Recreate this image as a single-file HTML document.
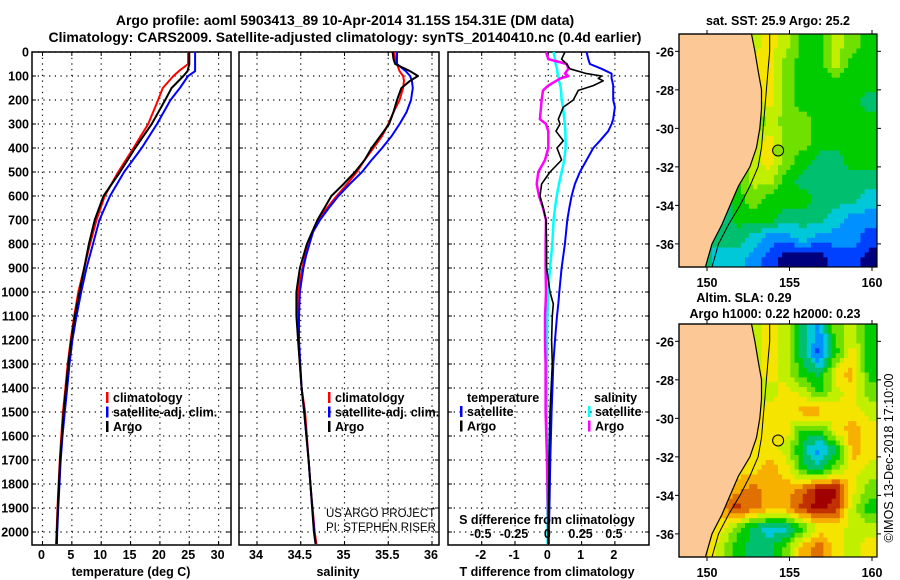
<!DOCTYPE html>
<html><head><meta charset="utf-8">
<style>
html,body{margin:0;padding:0;background:#fff;}
svg{display:block;font-family:"Liberation Sans",Arial,sans-serif;}
.b{font-weight:bold;font-size:12.5px;}
</style></head>
<body>
<svg id="fig" width="900" height="580" viewBox="0 0 900 580">
<text x="345" y="25" text-anchor="middle" font-weight="bold" font-size="14">Argo profile: aoml 5903413_89 10-Apr-2014 31.15S 154.31E (DM data)</text>
<text x="345" y="42" text-anchor="middle" font-weight="bold" font-size="14">Climatology: CARS2009. Satellite-adjusted climatology: synTS_20140410.nc (0.4d earlier)</text>
<g id="plots"></g>
</svg>
<script>
// ---------- data ----------
const depthT = [0,50,80,100,150,200,300,400,500,600,700,800,900,1000,1100,1200,1300,1400,1500,1600,1700,1800,1900,2000,2050];
const tempArgo = [25.0,25.0,24.7,24.0,22.0,20.9,18.6,15.8,13.2,10.4,8.9,7.9,7.1,6.3,5.5,4.9,4.4,4.0,3.6,3.3,3.0,2.8,2.6,2.45,2.4];
const tempClim = [24.8,24.8,23.2,22.3,20.5,19.7,18.0,15.5,12.9,10.6,9.2,8.1,7.1,6.1,5.4,4.8,4.3,3.9,3.5,3.2,2.95,2.75,2.55,2.4,2.3];
const tempSat  = [26.0,26.0,26.0,24.8,23.4,21.8,19.5,16.9,13.9,11.5,9.7,8.6,7.5,6.6,5.8,5.1,4.6,4.2,3.8,3.4,3.1,2.9,2.7,2.5,2.45];
const depthS = [0,30,50,80,100,120,150,200,250,300,350,400,450,500,550,600,650,700,750,800,850,900,950,1000,1100,1200,1400,1500,1700,1800,2000,2050];
const salArgo = [35.55,35.56,35.58,35.75,35.84,35.75,35.65,35.60,35.56,35.51,35.41,35.31,35.23,35.12,34.99,34.85,34.77,34.69,34.63,34.57,34.53,34.49,34.47,34.45,34.45,34.47,34.51,34.54,34.59,34.61,34.65,34.67];
const salClim = [35.57,35.58,35.60,35.63,35.67,35.68,35.67,35.63,35.56,35.50,35.43,35.33,35.23,35.14,35.03,34.91,34.80,34.70,34.64,34.59,34.55,34.52,34.49,34.47,34.46,34.47,34.51,34.55,34.59,34.61,34.66,34.68];
const salSat  = [35.60,35.60,35.60,35.70,35.75,35.77,35.78,35.76,35.71,35.63,35.54,35.43,35.31,35.20,35.06,34.93,34.82,34.72,34.64,34.60,34.56,34.53,34.51,34.49,34.48,34.48,34.51,34.54,34.59,34.61,34.655,34.67];
const depthD = [0,30,50,70,90,100,110,120,140,160,200,230,280,300,330,370,400,450,500,550,600,650,700,800,900,1000,1050,1100,1200,1300,1500,1700,2000,2050];
const dTSat  = [1.15,1.2,1.25,1.6,1.9,1.9,1.9,1.92,1.95,1.95,1.95,2.0,1.95,1.9,1.8,1.55,1.35,1.15,0.95,0.8,0.7,0.63,0.57,0.5,0.4,0.33,0.3,0.26,0.2,0.15,0.1,0.06,0.02,0.02];
const dTArgo = [0.5,0.4,0.55,0.65,1.15,1.6,1.5,1.65,1.35,0.9,0.75,0.45,0.3,0.35,0.23,0.45,0.26,0.4,0.05,-0.2,-0.25,-0.15,-0.07,-0.05,-0.05,0.05,0.15,0.12,0.1,0.12,0.05,0.02,0.0,0.0];
const dSSat  = [0.04,0.05,0.055,0.065,0.07,0.075,0.078,0.08,0.09,0.095,0.10,0.11,0.12,0.125,0.128,0.13,0.13,0.12,0.10,0.08,0.063,0.05,0.04,0.03,0.013,0.0,-0.004,-0.007,-0.01,-0.01,-0.01,-0.008,-0.005,-0.005];
const dSArgo = [-0.017,0.0,0.14,0.15,0.125,0.15,0.09,0.06,0.0,-0.04,-0.05,-0.055,-0.063,-0.017,0.0,0.0,0.0,-0.025,-0.075,-0.087,-0.07,-0.04,-0.017,-0.02,-0.02,-0.017,-0.02,-0.025,-0.025,-0.02,-0.02,-0.01,0.0,0.0];
const depthTicks = [0,100,200,300,400,500,600,700,800,900,1000,1100,1200,1300,1400,1500,1600,1700,1800,1900,2000];
const tempTicks = [0,5,10,15,20,25,30];
const salTicks = [34,34.5,35,35.5,36];
const salTickLabels = ["34","34.5","35","35.5","36"];
const dTTicks = [-2,-1,0,1,2];
const dSTicks = [-0.5,-0.25,0,0.25,0.5];
const dSTickLabels = ["-0.5","-0.25","0","0.25","0.5"];
// map grids: 12x12 colour indices (rows lat -25.1 -> -37.2, cols lon 148.3 -> 160.3)
const sstGrid = [
[5,5,5,5,7,8,7,5,5,7,6,5],
[5,5,5,5,8,8,6,5,5,7,5,5],
[5,5,5,5,8,8,6,5,5,5,5,5],
[5,5,5,5,7,8,6,5,5,5,5,4],
[5,5,5,5,5,7,6,6,5,5,5,5],
[5,5,5,5,7,8,6,6,5,5,5,5],
[5,5,5,6,7,8,6,5,4,4,5,5],
[5,5,5,5,7,7,5,4,4,4,4,4],
[5,5,4,5,6,5,5,5,4,4,4,3],
[5,5,3,5,5,5,4,4,4,3,2,2],
[5,3,4,4,3,2,2,3,2,2,2,1],
[5,4,3,3,2,1,0,0,0,1,1,0]];
const slaGrid = [
[5,5,5,5,7,8,7,4,2,6,7,5],
[5,5,5,5,7,8,7,4,1,5,8,5],
[5,5,5,5,7,8,7,5,4,8,9,5],
[5,5,5,5,7,7,8,7,5,7,8,6],
[5,5,5,5,7,8,8,9,9,8,8,7],
[5,5,5,5,8,8,8,5,5,8,9,8],
[5,5,5,5,8,8,7,4,2,4,9,8],
[5,5,5,8,8,9,8,5,4,6,8,7],
[5,5,7,9,10,9,9,10,12,12,8,6],
[5,7,9,11,10,9,9,11,12,11,7,5],
[5,9,8,6,4,3,3,5,8,8,7,7],
[5,9,7,5,4,4,6,9,10,8,7,8]];
const palette = ["#00007f","#0040ff","#0090ff","#00c8d8","#00c070","#00cc00","#70e000","#c0f000","#f4e400","#f8b000","#e07000","#c03000","#a00000"];
const coastLat = [-25.1,-26,-27,-28,-29,-30,-31,-32,-33,-34,-35,-36,-37.2];
const coastLon = [152.7,152.9,153.1,153.3,153.3,153.2,153.0,152.6,151.9,151.4,150.9,150.3,149.9];
const contourLon = [153.8,153.8,153.7,153.6,153.5,153.4,153.3,153.1,152.6,152.0,151.3,150.7,150.3];

// ---------- helpers ----------
const NS="http://www.w3.org/2000/svg";
const root=document.getElementById('plots');
function mk(tag,attrs,parent){const e=document.createElementNS(NS,tag);for(const k in attrs)e.setAttribute(k,attrs[k]);(parent||root).appendChild(e);return e;}
function txt(x,y,s,attrs,parent){const e=mk('text',Object.assign({x:x,y:y},attrs||{}),parent);e.textContent=s;return e;}
const Y0=52, YB=545;
function yD(d){return Y0+d*0.24;}

function panel(name,xl,xr,xs,ticks,showY){
  const g=mk('g',{});
  
  
  depthTicks.forEach(d=>{
    const l=mk('line',{x1:xl,x2:xr,y1:yD(d),y2:yD(d),stroke:'#000','stroke-width':1.2,'stroke-dasharray':'1.2,4.5'},g);
    
    
    mk('line',{x1:xl,x2:xl+4,y1:yD(d),y2:yD(d),stroke:'#000','stroke-width':1},g);
    mk('line',{x1:xr-4,x2:xr,y1:yD(d),y2:yD(d),stroke:'#000','stroke-width':1},g);
  });
  ticks.forEach(t=>{
    const l=mk('line',{x1:xs(t),x2:xs(t),y1:Y0,y2:YB,stroke:'#000','stroke-width':1.2,'stroke-dasharray':'1.2,4.5'},g);
    
    
    mk('line',{x1:xs(t),x2:xs(t),y1:YB-4,y2:YB,stroke:'#000'},g);
    mk('line',{x1:xs(t),x2:xs(t),y1:Y0,y2:Y0+4,stroke:'#000'},g);
  });
  const r=mk('rect',{x:xl,y:Y0,width:xr-xl,height:YB-Y0,fill:'none',stroke:'#000','stroke-width':1.5},g);
  
  
  if(showY){
    depthTicks.forEach(d=>{
      const t=txt(29,yD(d)+4.5,String(d),{'text-anchor':'end',class:'b'},g);
      
      
    });
  }
  return g;
}
function series(g,name,depths,vals,xs,color,w){
  const pts=depths.map((d,i)=>xs(vals[i]).toFixed(1)+','+yD(d).toFixed(1)).join(' ');
  const p=mk('polyline',{points:pts,fill:'none',stroke:color,'stroke-width':w||2,'stroke-linejoin':'round'},g);
  
  
}
function legend(g,x,y,items){
  items.forEach((it,i)=>{
    mk('rect',{x:x,y:y+i*14.5-10,width:2.5,height:11,fill:it[1]},g);
    const t=txt(x+7,y+i*14.5,it[0],{class:'b'},g);
    
    
  });
}

// ---------- panel 1: temperature ----------
const xT=t=>42.5+t*5.87;
const g1=panel('temperature-panel',32,231,xT,tempTicks,true);
series(g1,'temp-climatology-line',depthT,tempClim,xT,'#ff0000');
series(g1,'temp-satellite-line',depthT,tempSat,xT,'#0000ff');
series(g1,'temp-argo-line',depthT,tempArgo,xT,'#000000');
tempTicks.forEach(t=>{const e=txt(xT(t)-1,559,String(t),{'text-anchor':'middle',class:'b'},g1);});
const at1=txt(131,576,'temperature (deg C)',{'text-anchor':'middle',class:'b'},g1);


legend(g1,106,402,[['climatology','#ff0000'],['satellite-adj. clim.','#0000ff'],['Argo','#000']]);

// ---------- panel 2: salinity ----------
const xS=s=>257+(s-34)*87.5;
const g2=panel('salinity-panel',239,439,xS,salTicks,false);
series(g2,'sal-climatology-line',depthS,salClim,xS,'#ff0000');
series(g2,'sal-satellite-line',depthS,salSat,xS,'#0000ff');
series(g2,'sal-argo-line',depthS,salArgo,xS,'#000000');
salTicks.forEach((t,i)=>{const e=txt(xS(t)-1,559,salTickLabels[i],{'text-anchor':'middle',class:'b'},g2);});
const at2=txt(338,576,'salinity',{'text-anchor':'middle',class:'b'},g2);


legend(g2,328,402,[['climatology','#ff0000'],['satellite-adj. clim.','#0000ff'],['Argo','#000']]);
const cr1=txt(326,517,'US ARGO PROJECT',{'font-size':'11.5'},g2);


const cr2=txt(326,531,'PI: STEPHEN RISER',{'font-size':'11.5'},g2);



// ---------- panel 3: differences ----------
const xDT=t=>548.3+t*33.3;
const xDS=s=>548.3+s*133.2;
const g3=panel('difference-panel',448,649,xDT,dTTicks,false);
series(g3,'dT-satellite-line',depthD,dTSat,xDT,'#0000ff');
series(g3,'dS-satellite-line',depthD,dSSat,xDS,'#00ffff',2.5);
series(g3,'dS-argo-line',depthD,dSArgo,xDS,'#ff00ff',2.5);
series(g3,'dT-argo-line',depthD,dTArgo,xDT,'#000000',1.6);
dTTicks.forEach(t=>{const e=txt(xDT(t)-1,559,String(t),{'text-anchor':'middle',class:'b'},g3);});
dSTicks.forEach((t,i)=>{const e=txt(xDS(t)-1,538,dSTickLabels[i],{'text-anchor':'middle',class:'b'},g3);});
const st=txt(547,524,'S difference from climatology',{'text-anchor':'middle',class:'b'},g3);


const at3=txt(547,576,'T difference from climatology',{'text-anchor':'middle',class:'b'},g3);


const lt=txt(467,402,'temperature',{class:'b'},g3);


legend(g3,460,416,[['satellite','#0000ff'],['Argo','#000']]);
const ls=txt(594,402,'salinity',{class:'b'},g3);


legend(g3,588,416,[['satellite','#00ffff'],['Argo','#ff00ff']]);

// ---------- maps ----------
const MX0=679, MX1=877;
const lonX=l=>707+(l-150)*16.5;
const LAT0=-25.1, LAT1=-37.2;
const SUB=4;
function sample(grid,fr,fc){
  const r=Math.max(0,Math.min(11,fr-0.5)), c=Math.max(0,Math.min(11,fc-0.5));
  const r0=Math.floor(r), c0=Math.floor(c), r1=Math.min(11,r0+1), c1=Math.min(11,c0+1);
  const a=r-r0, b=c-c0;
  return (grid[r0][c0]*(1-a)*(1-b)+grid[r0][c1]*(1-a)*b+grid[r1][c0]*a*(1-b)+grid[r1][c1]*a*b);
}
function drawMap(name,top,grid,circleFill){
  const bot=top+233;
  const latY=la=>top+(LAT0-la)/(LAT0-LAT1)*233;
  const g=mk('g',{});
  
  
  const n=12*SUB, cw=(MX1-MX0)/n, ch=233/n;
  for(let r=0;r<n;r++)for(let c=0;c<n;c++){
    const v=Math.round(sample(grid,(r+0.5)/SUB,(c+0.5)/SUB));
    const cell=mk('rect',{x:(MX0+c*cw).toFixed(2),y:(top+r*ch).toFixed(2),width:(cw+0.4).toFixed(2),height:(ch+0.4).toFixed(2),fill:palette[v]},g);
    
    
  }
  let pts=MX0+','+top+' ';
  coastLat.forEach((la,i)=>{pts+=lonX(coastLon[i]).toFixed(1)+','+latY(la).toFixed(1)+' ';});
  pts+=MX0+','+bot;
  const land=mk('polygon',{points:pts,fill:'#fbc896',stroke:'#000','stroke-width':1.2},g);
  
  
  const cpts=coastLat.map((la,i)=>lonX(contourLon[i]).toFixed(1)+','+latY(la).toFixed(1)).join(' ');
  const cl=mk('polyline',{points:cpts,fill:'none',stroke:'#000','stroke-width':1},g);
  
  
  const ci=mk('circle',{cx:lonX(154.31),cy:latY(-31.15),r:5.5,fill:circleFill,stroke:'#000','stroke-width':1},g);
  
  
  const fr=mk('rect',{x:MX0,y:top,width:MX1-MX0,height:233,fill:'none',stroke:'#000','stroke-width':1.2},g);
  
  
  [-26,-28,-30,-32,-34,-36].forEach(la=>{
    mk('line',{x1:MX0-4,x2:MX0,y1:latY(la),y2:latY(la),stroke:'#000'},g);
    mk('line',{x1:MX1,x2:MX1+4,y1:latY(la),y2:latY(la),stroke:'#000'},g);
    const t=txt(674,latY(la)+5,String(la),{'text-anchor':'end',class:'b'},g);
    
    
  });
  [150,155,160].forEach(lo=>{
    mk('line',{x1:lonX(lo),x2:lonX(lo),y1:top-4,y2:top,stroke:'#000'},g);
    mk('line',{x1:lonX(lo),x2:lonX(lo),y1:bot,y2:bot+4,stroke:'#000'},g);
    const t=txt(lonX(lo),bot+20,String(lo),{'text-anchor':'middle',class:'b','font-size':'13.5'},g);
    
    
  });
}
drawMap('sst-map',34,sstGrid,'#8ee000');
drawMap('sla-map',324,slaGrid,'#f0e000');
const mt1=txt(778,25,'sat. SST: 25.9 Argo: 25.2',{'text-anchor':'middle',class:'b'});


const mt2=txt(744,302,'Altim. SLA: 0.29',{'text-anchor':'middle',class:'b'});


const mt3=txt(775,318,'Argo h1000: 0.22 h2000: 0.23',{'text-anchor':'middle',class:'b'});


const im=txt(0,0,'©IMOS 13-Dec-2018 17:10:00',{'text-anchor':'middle','font-size':'12.5',transform:'translate(893,458) rotate(-90)'});


</script>
</body></html>
